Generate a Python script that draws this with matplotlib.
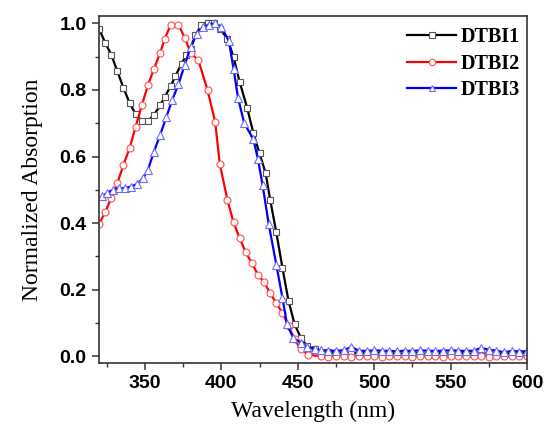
import matplotlib
matplotlib.use("Agg")
import matplotlib.pyplot as plt
from matplotlib.ticker import MultipleLocator

# ---- data ----
tail_wl = [465, 470, 475, 480, 485, 490, 495, 500, 505, 510, 515, 520, 525, 530,
           535, 540, 545, 550, 555, 560, 565, 570, 575, 580, 585, 590, 595, 600]

wl1 = [320, 324, 328, 332, 336, 340, 344, 348, 352, 356, 360, 363, 367, 370, 374,
       377, 380, 383, 387, 391, 395, 399, 404, 408, 412, 417, 421, 425, 429, 432,
       436, 440, 444, 448, 452, 456, 461] + tail_wl
abs1 = [0.984, 0.942, 0.906, 0.856, 0.806, 0.761, 0.727, 0.707, 0.707, 0.725, 0.754,
        0.779, 0.812, 0.842, 0.879, 0.904, 0.924, 0.964, 0.995, 1.0, 1.0, 0.984, 0.954,
        0.899, 0.824, 0.745, 0.670, 0.610, 0.550, 0.470, 0.372, 0.266, 0.166, 0.096,
        0.056, 0.031, 0.021,
        0.014, 0.012, 0.010, 0.011, 0.012, 0.009, 0.010, 0.011, 0.009, 0.010, 0.008,
        0.009, 0.010, 0.009, 0.008, 0.010, 0.009, 0.008, 0.010, 0.009, 0.008, 0.010,
        0.009, 0.008, 0.007, 0.009, 0.010, 0.011]

wl2 = [320, 324, 328, 332, 336, 340, 344, 348, 352, 356, 360, 363, 367, 372, 376,
       380, 385, 391, 396, 399, 404, 408, 412, 416, 420, 424, 428, 432, 436, 440,
       444, 448, 452, 457] + tail_wl
abs2 = [0.398, 0.432, 0.475, 0.520, 0.575, 0.625, 0.690, 0.754, 0.814, 0.864, 0.911,
        0.954, 0.996, 0.996, 0.957, 0.911, 0.889, 0.800, 0.704, 0.578, 0.470, 0.402,
        0.355, 0.312, 0.280, 0.245, 0.222, 0.190, 0.159, 0.131, 0.091, 0.051, 0.021,
        0.005,
        0.000, -0.002, 0.000, 0.001, -0.001, 0.000, 0.001, 0.000, -0.001, 0.000,
        0.001, 0.000, -0.001, 0.000, 0.001, 0.000, -0.001, 0.000, 0.001, 0.000,
        0.000, 0.001, -0.001, 0.000, 0.000, 0.001, 0.000, 0.000]

wl3 = [322, 325, 329, 333, 337, 341, 345, 349, 352, 356, 360, 364, 368, 372, 376,
       380, 384, 388, 392, 396, 400, 405, 408, 411, 415, 421, 424, 427, 431, 436,
       440, 443, 447, 452, 456, 461] + tail_wl
abs3 = [0.480, 0.490, 0.500, 0.505, 0.505, 0.510, 0.518, 0.535, 0.560, 0.615, 0.665,
        0.718, 0.771, 0.817, 0.874, 0.929, 0.969, 0.989, 0.996, 1.0, 0.990, 0.946,
        0.864, 0.775, 0.700, 0.652, 0.592, 0.515, 0.398, 0.275, 0.176, 0.096, 0.056,
        0.041, 0.029, 0.023,
        0.018, 0.016, 0.017, 0.018, 0.028, 0.017, 0.016, 0.018, 0.017, 0.016, 0.015,
        0.017, 0.016, 0.018, 0.017, 0.016, 0.017, 0.018, 0.017, 0.016, 0.017, 0.025,
        0.020, 0.017, 0.012, 0.016, 0.014, 0.015]

labels = ["DTBI1", "DTBI2", "DTBI3"]
xticks = [350, 400, 450, 500, 550, 600]
yticks = [0.0, 0.2, 0.4, 0.6, 0.8, 1.0]

fig = plt.figure(figsize=(5.44, 4.29), dpi=100)
ax = fig.add_axes([99 / 544, 1 - 363 / 429, (527 - 99) / 544, (363 - 16) / 429])

ms = 5.0
ax.plot(wl1, abs1, color="black", lw=1.6, marker="s", ms=ms, mfc="white",
        mec="#555555", mew=0.8, label=labels[0])
ax.plot(wl2, abs2, color="#ff0000", lw=1.6, marker="o", ms=ms, mfc="white",
        mec="#ff5050", mew=0.8, label=labels[1])
ax.plot(wl3, abs3, color="#0000ff", lw=1.6, marker="^", ms=ms + 0.5, mfc="white",
        mec="#6a6aff", mew=0.8, label=labels[2])

ax.set_xlim(320, 600)
ax.set_ylim(-0.02, 1.022)
ax.set_xticks(xticks)
ax.set_yticks(yticks)
ax.xaxis.set_minor_locator(MultipleLocator(25))
ax.yaxis.set_minor_locator(MultipleLocator(0.1))
ax.set_xticklabels([str(v) for v in xticks])
ax.set_yticklabels([f"{v:.1f}" for v in yticks])

for s in ax.spines.values():
    s.set_linewidth(1.2)
    s.set_color("#333333")

ax.tick_params(which="major", direction="out", length=5, width=1.1, color="#333333",
               top=False, right=False, pad=4)
ax.tick_params(which="minor", direction="out", length=3, width=1.0, color="#333333",
               top=False, right=False)
for lab in ax.get_xticklabels() + ax.get_yticklabels():
    lab.set_family("Liberation Sans")
    lab.set_fontweight("bold")
    lab.set_fontsize(14)

ax.set_xlabel("Wavelength (nm)", family="Liberation Serif", fontsize=17, labelpad=6)
ax.set_ylabel("Normalized Absorption", family="Liberation Serif", fontsize=17, labelpad=12)

leg = ax.legend(loc="upper right", bbox_to_anchor=(1.0, 0.988), frameon=False,
                prop={"family": "Liberation Serif", "weight": "bold", "size": 14.5},
                handlelength=2.4, handletextpad=0.25, labelspacing=0.32,
                borderaxespad=0.2, borderpad=0.15, markerscale=0.9)

fig.savefig("out.png", dpi=100)
